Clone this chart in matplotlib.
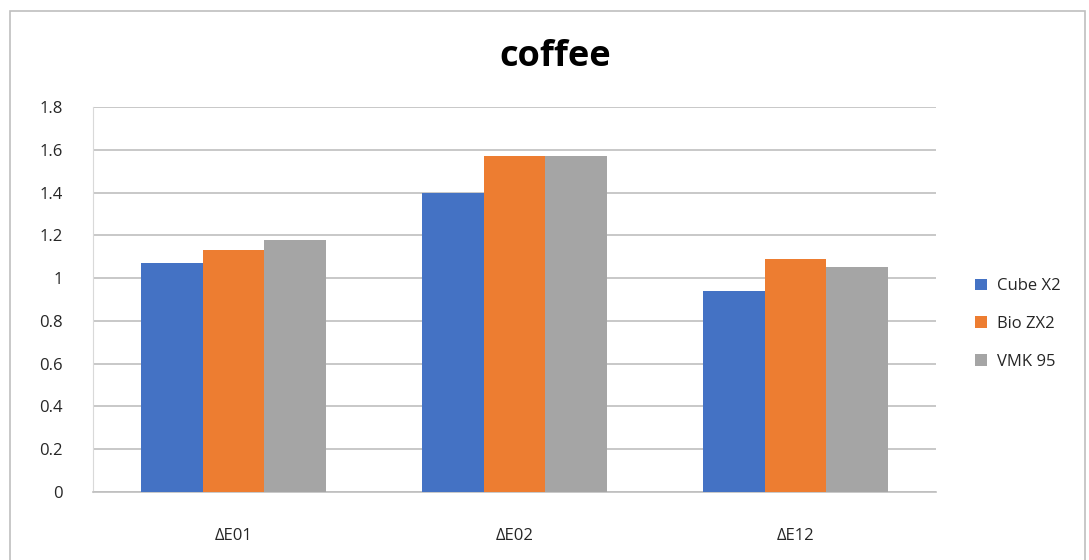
import numpy as np
import matplotlib.pyplot as plt
from matplotlib.patches import Rectangle

categories = ['ΔE01', 'ΔE02', 'ΔE12']
series_names = ['Cube X2', 'Bio ZX2', 'VMK 95']
cube_x2 = [1.07, 1.40, 0.94]
bio_zx2 = [1.13, 1.57, 1.09]
vmk_95 = [1.18, 1.57, 1.05]
colors = ['#4472C4', '#ED7D31', '#A5A5A5']
y_ticks = [0, 0.2, 0.4, 0.6, 0.8, 1, 1.2, 1.4, 1.6, 1.8]
y_tick_labels = ['0', '0.2', '0.4', '0.6', '0.8', '1', '1.2', '1.4', '1.6', '1.8']


def main():
    plt.rcParams['font.family'] = ['Open Sans', 'DejaVu Sans']
    fig = plt.figure(figsize=(10.89, 5.6), dpi=100)

    # outer chart border
    fig.patches.append(Rectangle((10 / 1089, -0.1), 1075 / 1089, 1.08,
                                 transform=fig.transFigure, fill=False,
                                 edgecolor='#BFBFBF', linewidth=1.2))

    ax = fig.add_axes([93 / 1089, 1 - 492 / 560, 843 / 1089, 385 / 560])
    x = np.arange(len(categories))
    width = 0.22
    for i, (name, vals) in enumerate(zip(series_names, [cube_x2, bio_zx2, vmk_95])):
        ax.bar(x + (i - 1) * width, vals, width, color=colors[i], label=name, zorder=3)

    ax.set_xlim(-0.5, 2.5)
    ax.set_ylim(0, 1.8)
    ax.set_yticks(y_ticks)
    ax.set_yticklabels(y_tick_labels)
    ax.set_xticks(x)
    ax.set_xticklabels(categories)
    ax.tick_params(axis='both', length=0, labelsize=12, colors='#262626')
    ax.tick_params(axis='y', pad=22)
    ax.tick_params(axis='x', pad=26)
    ax.grid(axis='y', color='#BFBFBF', linewidth=1.2, zorder=0)
    for s in ['top', 'right']:
        ax.spines[s].set_visible(False)
    ax.spines['left'].set_color('#D9D9D9')
    ax.spines['bottom'].set_color('#BFBFBF')
    ax.spines['bottom'].set_linewidth(1.2)

    fig.text(555 / 1089, 1 - 57 / 560, 'coffee', ha='center', va='center',
             fontsize=26, fontweight='bold', color='black')

    leg = ax.legend(loc='center left', bbox_to_anchor=(960 / 1089, 1 - 324 / 560),
                    bbox_transform=fig.transFigure, frameon=False, fontsize=12,
                    handlelength=0.7, handleheight=0.7, handletextpad=0.6,
                    labelspacing=1.3)
    for t in leg.get_texts():
        t.set_color('#262626')

    fig.savefig('out.png', dpi=100)


if __name__ == '__main__':
    main()
